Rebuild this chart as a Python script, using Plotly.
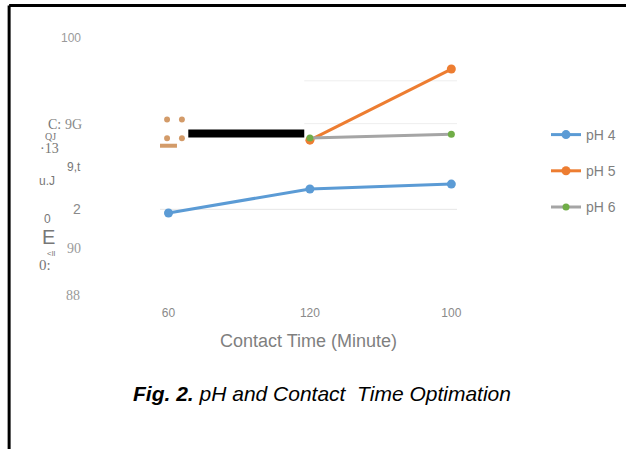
import plotly.graph_objects as go

categories = ["60", "120", "100"]
ph4 = [91.83, 92.95, 93.18]
ph5 = [None, 95.23, 98.55]
ph6 = [None, 95.33, 95.51]

ytick_vals = [100, 96, 94, 92, 90, 88]
ytick_text = ["100", "9G", "9,t", "2", "90", "88"]

fig = go.Figure()
fig.add_trace(go.Scatter(x=categories, y=ph4, name="pH 4", mode="lines+markers",
                         line=dict(color="#5b9bd5", width=3), marker=dict(color="#5b9bd5", size=9),
                         legendgroup="a"))
fig.add_trace(go.Scatter(x=categories, y=ph5, name="pH 5", mode="lines+markers",
                         line=dict(color="#ed7d31", width=3), marker=dict(color="#ed7d31", size=9),
                         legendgroup="b"))
fig.add_trace(go.Scatter(x=categories, y=ph6, name="pH 6", mode="lines+markers",
                         line=dict(color="#a5a5a5", width=3), marker=dict(color="#70ad47", size=7),
                         legendgroup="c"))

gray = "#8a8a8a"
shapes = []
# faint gridlines
shapes.append(dict(type="line", xref="paper", x0=0, x1=1, yref="y", y0=92, y1=92,
                   line=dict(color="#e6e6e6", width=1), layer="below"))
for gv in [96, 98]:
    shapes.append(dict(type="line", xref="x", x0=0.96, x1=2.04, yref="y", y0=gv, y1=gv,
                       line=dict(color="#eeeeee", width=1), layer="below"))
# scan artefacts
shapes.append(dict(type="line", xref="x", x0=0.14, x1=0.96, yref="y", y0=95.54, y1=95.54,
                   line=dict(color="black", width=8)))
for cx, cy in [(-0.01, 96.2), (0.095, 96.2), (-0.01, 95.32), (0.095, 95.32)]:
    shapes.append(dict(type="circle", xref="x", yref="y", x0=cx - 0.021, x1=cx + 0.021,
                       y0=cy - 0.14, y1=cy + 0.14, fillcolor="#d39b69", line=dict(width=0)))
shapes.append(dict(type="line", xref="x", x0=-0.07, x1=0.06, yref="y", y0=94.97, y1=94.97,
                   line=dict(color="#d39b69", width=4)))
# page frame
shapes.append(dict(type="line", xref="paper", yref="paper", x0=-0.508, x1=1.57, y0=1.126, y1=1.126,
                   line=dict(color="black", width=3)))
shapes.append(dict(type="line", xref="paper", yref="paper", x0=-0.508, x1=-0.508, y0=1.126, y1=-0.61,
                   line=dict(color="black", width=3)))

ann = []
def px_to_paper_x(px):
    return (px - 160) / 297.0

def px_to_paper_y(py):
    return (295 - py) / 257.0

serif = "Liberation Serif"
sans = "Liberation Sans"
# y tick labels
tick_fonts = {"100": (sans, 12, "#9a9a9a"), "9G": (serif, 14, gray), "9,t": (sans, 12, "#777777"),
              "2": (sans, 14, gray), "90": (serif, 14, "#9a9a9a"), "88": (serif, 14, "#9a9a9a")}
tick_x = {"100": 83, "9G": 84, "9,t": 83, "2": 83, "90": 83, "88": 82}
for v, t in zip(ytick_vals, ytick_text):
    f = tick_fonts[t]
    ypix = {100: 38, 96: 124, 94: 167, 92: 209, 90: 248, 88: 295}[v]
    ann.append(dict(text=t, xref="paper", yref="paper", x=px_to_paper_x(tick_x[t]), y=px_to_paper_y(ypix),
                    xanchor="right", yanchor="middle", showarrow=False,
                    font=dict(family=f[0], size=f[1], color=f[2])))
# garbled y-axis title
ytitle_parts = [("C:", 54, 124, serif, 14), ("QJ", 50, 136, serif, 10), ("·13", 49, 148, serif, 14),
                ("u.J", 47, 181, sans, 12), ("0", 47, 219, sans, 12), ("E", 48, 237, sans, 20),
                ("&lt;ll", 51, 253, sans, 8), ("0:", 45, 265, serif, 15)]
for t, xp, yp, fam, sz in ytitle_parts:
    ann.append(dict(text=t, xref="paper", yref="paper", x=px_to_paper_x(xp), y=px_to_paper_y(yp),
                    xanchor="center", yanchor="middle", showarrow=False,
                    font=dict(family=fam, size=sz, color="#777777")))
ann.append(dict(text="Contact Time (Minute)", xref="paper", yref="paper", x=px_to_paper_x(308),
                y=px_to_paper_y(341), xanchor="center", yanchor="middle", showarrow=False,
                font=dict(family=sans, size=18, color="#7f7f7f")))
ann.append(dict(text="<b><i>Fig. 2.</i></b><i> pH and Contact  Time Optimation</i>", xref="paper", yref="paper",
                x=px_to_paper_x(322), y=px_to_paper_y(393), xanchor="center", yanchor="middle",
                showarrow=False, font=dict(family=sans, size=21, color="black")))

fig.update_layout(
    width=626, height=449, autosize=False,
    margin=dict(l=160, r=169, t=38, b=154, autoexpand=False),
    paper_bgcolor="white", plot_bgcolor="white",
    showlegend=True,
    legend=dict(x=px_to_paper_x(546), y=px_to_paper_y(119), xanchor="left", yanchor="top",
                font=dict(family=sans, size=14, color="#7f7f7f"), tracegroupgap=15,
                bgcolor="rgba(0,0,0,0)"),
    xaxis=dict(type="category", range=[-0.06, 2.04], showgrid=False, zeroline=False, showline=False,
               ticks="outside", ticklen=7, tickcolor="rgba(0,0,0,0)",
               tickfont=dict(family=sans, size=12, color="#8a8a8a")),
    yaxis=dict(range=[88, 100], showgrid=False, zeroline=False, showline=False, showticklabels=False,
               ticks=""),
    shapes=shapes, annotations=ann,
)
fig.write_html("out.html", config={"responsive": False, "displayModeBar": False},
               post_script="document.body.style.margin='0px';document.body.style.overflow='hidden';")
